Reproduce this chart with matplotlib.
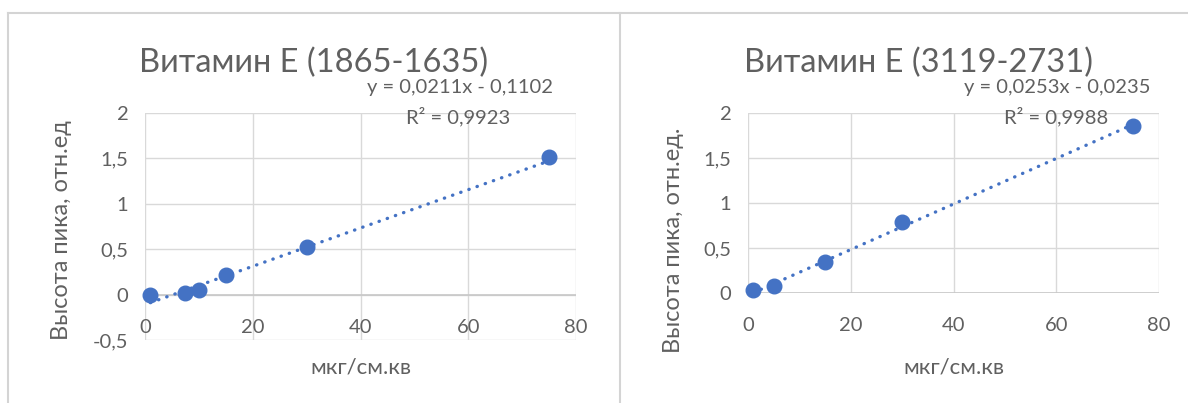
import matplotlib.pyplot as plt
from matplotlib.lines import Line2D

# калибровка, витамин Е
conc_a = [1, 7.5, 10, 15, 30, 75]
peak_a = [0.0, 0.02, 0.05, 0.22, 0.52, 1.51]
fit_a = (0.0211, -0.1102)
r2_a = "0,9923"

conc_b = [1, 5, 15, 30, 75]
peak_b = [0.03, 0.08, 0.34, 0.79, 1.86]
fit_b = (0.0253, -0.0235)
r2_b = "0,9988"

xticks = [0, 20, 40, 60, 80]
yticks_a = [-0.5, 0, 0.5, 1, 1.5, 2]
yticks_b = [0, 0.5, 1, 1.5, 2]

BLUE = "#4472C4"
GRAY = "#606060"
GRID = "#D9D9D9"

plt.rcParams['font.family'] = ['Lato', 'Noto Sans', 'DejaVu Sans']

fig = plt.figure(figsize=(11.88, 4.03), dpi=100)


def fmt(v):
    s = f"{v:g}"
    return s.replace(".", ",")


def panel(rect, x, y, fit, r2, yticks, title, ylabel, ylab_pos, title_x, eq_x, r2_x):
    ax = fig.add_axes(rect)
    ax.set_xlim(0, 80)
    ax.set_ylim(yticks[0], yticks[-1])
    ax.set_xticks(xticks)
    ax.set_yticks(yticks)
    ax.set_yticklabels([fmt(v) for v in yticks])
    ax.grid(True, color=GRID, linewidth=1)
    ax.set_axisbelow(True)
    for s in ax.spines.values():
        s.set_visible(False)
    ax.axhline(0, color="#C8C8C8", linewidth=1.2, zorder=1)
    ax.tick_params(length=0, labelsize=14.5, labelcolor=GRAY)
    ax.tick_params(axis="y", pad=12)
    # подписи оси X под линией y=0
    ax.set_xticklabels([])
    for t in xticks:
        ax.annotate(str(t), (t, 0), xytext=(0, -17.5), textcoords="offset points",
                    ha="center", va="top", fontsize=14.5, color=GRAY)

    k, b = fit
    xf = [min(x), max(x)]
    ax.plot(xf, [k * v + b for v in xf], linestyle=(0, (0.1, 2.5)),
            color=BLUE, linewidth=2.4, dash_capstyle="round", zorder=2)
    ax.plot(x, y, "o", color=BLUE, markersize=10.5, zorder=3, clip_on=False)

    fig.text(title_x, 1 - 63 / 403, title, ha="center", va="center",
             fontsize=23.5, color=GRAY)
    sign = "-" if b < 0 else "+"
    fig.text(eq_x, 1 - 88 / 403,
             f"y = {fmt(k)}x {sign} {fmt(abs(b))}",
             ha="center", va="center", fontsize=14.5, color=GRAY)
    fig.text(r2_x, 1 - 117 / 403, f"R² = {r2}", ha="center", va="center",
             fontsize=14.5, color=GRAY)
    fig.text(ylab_pos[0], ylab_pos[1], ylabel, rotation=90, ha="center",
             va="center", fontsize=17, color=GRAY)
    fig.text(rect[0] + rect[2] / 2, 1 - 367 / 403, "мкг/см.кв",
             ha="center", va="center", fontsize=16, color=GRAY)
    return ax


panel([145 / 1188, 1 - 340 / 403, 431 / 1188, 227 / 403],
      conc_a, peak_a, fit_a, r2_a, yticks_a,
      "Витамин Е (1865-1635)", "Высота пика, отн.ед",
      (61 / 1188, 1 - 230 / 403), 314 / 1188, 460 / 1188, 458 / 1188)

panel([748 / 1188, 1 - 293 / 403, 411 / 1188, 180 / 403],
      conc_b, peak_b, fit_b, r2_b, yticks_b,
      "Витамин Е (3119-2731)", "Высота пика, отн.ед.",
      (673 / 1188, 1 - 240 / 403), 918 / 1188, 1057 / 1188, 1056 / 1188)

# рамки диаграмм
border = "#D4D4D4"
W, H = 1188, 403
for xs, ys in [([8, W], [13, 13]), ([8, 8], [13, H]), ([620, 620], [13, H])]:
    fig.add_artist(Line2D([v / W for v in xs], [1 - v / H for v in ys],
                          color=border, linewidth=1.5))

fig.savefig("out.png", dpi=100)
